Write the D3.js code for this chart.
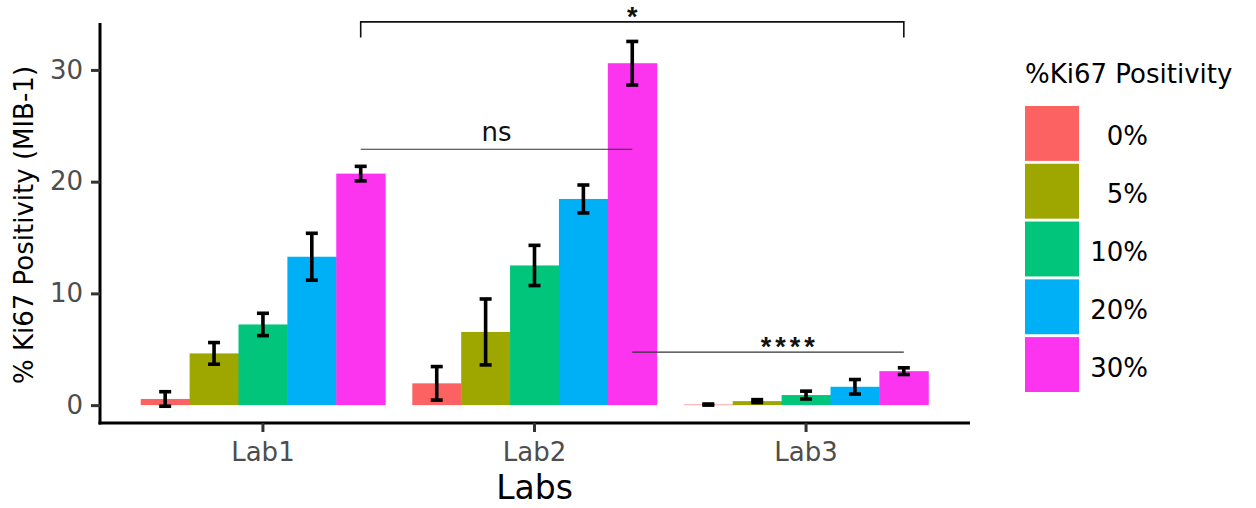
<!DOCTYPE html>
<html>
<head>
<meta charset="utf-8">
<script src="https://cdn.jsdelivr.net/npm/d3@7"></script>
<style>
  html, body { margin: 0; padding: 0; background: #fff; }
  svg { display: block; font-family: "DejaVu Sans", sans-serif; }
</style>
</head>
<body>
<svg id="chart" width="1256" height="508"></svg>
<script>
// data
const labs = ["Lab1", "Lab2", "Lab3"];
const levels = ["0%", "5%", "10%", "20%", "30%"];
const levelColors = ["#fd6262", "#9ea700", "#00c57b", "#00b0f6", "#fc34ef"];

const lab1Mean = [0.55, 4.63, 7.22, 13.28, 20.72];
const lab1Err  = [0.65, 0.97, 1.0, 2.1, 0.65];
const lab2Mean = [1.95, 6.55, 12.5, 18.45, 30.6];
const lab2Err  = [1.5, 2.95, 1.8, 1.25, 1.95];
const lab3Mean = [0.05, 0.36, 0.9, 1.64, 3.04];
const lab3Err  = [0.05, 0.13, 0.35, 0.65, 0.3];

const yTicks = [0, 10, 20, 30];

// significance brackets
const sigLabels = ["*", "ns", "****"];
const sigFrom   = [["Lab1", "30%"], ["Lab1", "30%"], ["Lab2", "30%"]];
const sigTo     = [["Lab3", "30%"], ["Lab2", "30%"], ["Lab3", "30%"]];
const sigY      = [34.3, 22.9, 4.75];
const sigDrop   = [32.9, null, null];
const sigTextAt = [0.5, 0.5, 0.58];

const means = [lab1Mean, lab2Mean, lab3Mean];
const errs = [lab1Err, lab2Err, lab3Err];

const rows = [];
labs.forEach((lab, i) => {
  levels.forEach((lv, j) => {
    rows.push({ lab, level: lv, mean: means[i][j], err: errs[i][j] });
  });
});

const svg = d3.select("#chart");

const x = d3.scaleBand().domain(labs).range([100, 969])
  .paddingInner(0.1).paddingOuter(0.15);
const xs = d3.scaleBand().domain(levels).range([0, x.bandwidth()]);
const y = d3.scaleLinear().domain([-1.6, 34.2]).range([423, 23]);
const color = d3.scaleOrdinal().domain(levels).range(levelColors);

const cx = (lab, lv) => x(lab) + xs(lv) + xs.bandwidth() / 2;

// bars
svg.append("g").selectAll("rect").data(rows).join("rect")
  .attr("x", d => x(d.lab) + xs(d.level))
  .attr("width", xs.bandwidth() + 0.5)
  .attr("y", d => y(d.mean))
  .attr("height", d => y(0) - y(d.mean))
  .attr("fill", d => color(d.level));

// error bars
const eb = svg.append("g").attr("stroke", "#000").attr("stroke-width", 3.6).attr("fill", "none");
const capW = 6;
rows.forEach(d => {
  const c = cx(d.lab, d.level);
  const top = y(d.mean + d.err), bot = y(d.mean - d.err);
  eb.append("line").attr("x1", c).attr("x2", c).attr("y1", top).attr("y2", bot);
  eb.append("line").attr("x1", c - capW).attr("x2", c + capW).attr("y1", top).attr("y2", top);
  eb.append("line").attr("x1", c - capW).attr("x2", c + capW).attr("y1", bot).attr("y2", bot);
});

// axes
const yAxis = svg.append("g").attr("transform", "translate(100,0)")
  .call(d3.axisLeft(y).tickValues(yTicks).tickSize(9).tickSizeOuter(0).tickPadding(8));
const xAxis = svg.append("g").attr("transform", "translate(0,423)")
  .call(d3.axisBottom(x).tickSize(9).tickSizeOuter(0).tickPadding(11));

[yAxis, xAxis].forEach(g => {
  g.select(".domain").attr("stroke", "#000").attr("stroke-width", 3);
  g.selectAll(".tick line").attr("stroke", "#333").attr("stroke-width", 3);
  g.selectAll(".tick text").attr("fill", "#4d4d4d")
    .style("font-family", "DejaVu Sans").style("font-size", "26px");
});
xAxis.select(".domain").attr("d", "M98.5,0H970");
yAxis.select(".domain").attr("d", "M0,424.5V23");

// axis titles
svg.append("text").attr("x", 534.5).attr("y", 499).attr("text-anchor", "middle")
  .style("font-size", "33px").attr("fill", "#000").text("Labs");
svg.append("text").attr("transform", "translate(33,225) rotate(-90)")
  .attr("text-anchor", "middle").style("font-size", "26px").attr("fill", "#000")
  .text("% Ki67 Positivity (MIB-1)");

// significance annotations
const sg = svg.append("g");
sigLabels.forEach((lab, i) => {
  const x1 = cx(sigFrom[i][0], sigFrom[i][1]);
  const x2 = cx(sigTo[i][0], sigTo[i][1]);
  const yy = y(sigY[i]);
  const bracket = sigDrop[i] !== null;
  let d = `M${x1},${yy}H${x2}`;
  if (bracket) d = `M${x1},${y(sigDrop[i])}V${yy}H${x2}V${y(sigDrop[i])}`;
  sg.append("path").attr("d", d).attr("fill", "none")
    .attr("stroke", bracket ? "#111" : "#333")
    .attr("stroke-width", bracket ? 1.6 : 1.2);
  const tx = x1 + (x2 - x1) * sigTextAt[i];
  if (lab === "ns") {
    sg.append("text").attr("x", tx).attr("y", yy - 8).attr("text-anchor", "middle")
      .style("font-size", "26px").attr("fill", "#111").text(lab);
  } else {
    sg.append("text").attr("x", tx).attr("y", yy + 4).attr("text-anchor", "middle")
      .style("font-family", "Liberation Sans").style("font-size", "27px")
      .style("font-weight", "bold")
      .style("letter-spacing", lab.length > 1 ? "4px" : "0px")
      .attr("fill", "#111").text(lab);
  }
});

// legend
const lg = svg.append("g");
lg.append("text").attr("x", 1025).attr("y", 83).style("font-size", "26px")
  .attr("fill", "#000").text("%Ki67 Positivity");
const keyY = d3.scaleBand().domain(levels).range([106, 392]).paddingInner(0.05);
levels.forEach(lv => {
  lg.append("rect").attr("x", 1025).attr("y", keyY(lv))
    .attr("width", 54).attr("height", keyY.bandwidth())
    .attr("fill", color(lv));
  lg.append("text").attr("x", 1148).attr("y", keyY(lv) + keyY.bandwidth() / 2 + 12)
    .attr("text-anchor", "end").style("font-size", "26px").attr("fill", "#000").text(lv);
});
</script>
</body>
</html>
